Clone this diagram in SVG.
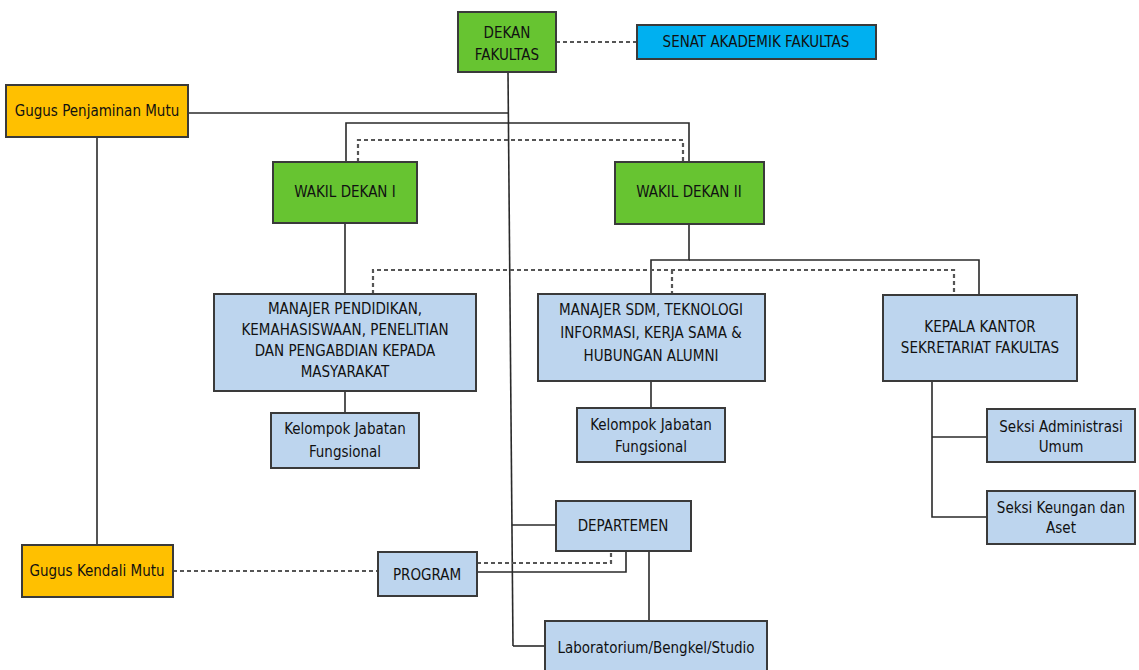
<svg xmlns="http://www.w3.org/2000/svg" width="1139" height="670" viewBox="0 0 1139 670">
<style>
.box{stroke:#3a3a3a;stroke-width:2}
.g{fill:#67c431}.s{fill:#00b0f0}.o{fill:#ffc000}.b{fill:#bdd5ee}
.ln{fill:none;stroke:#2a2a2a;stroke-width:1.6}
.dl{fill:none;stroke:#555;stroke-width:2.2;stroke-dasharray:4 3}
text{font-family:"Liberation Sans Narrow","DejaVu Sans Condensed","Liberation Sans",sans-serif;font-size:15px;fill:#111;text-anchor:middle}
</style>
<rect width="1139" height="670" fill="#fff"/>
<g id="connectors">
<line class="dl" x1="556" y1="42" x2="637" y2="42"/>
<polyline class="ln" points="188,113 508,113"/>
<line class="ln" x1="508" y1="72" x2="513" y2="646"/>
<polyline class="ln" points="513,646 545,646"/>
<polyline class="ln" points="512,525 556,525"/>
<polyline class="ln" points="346,162 346,123 689,123 689,162"/>
<polyline class="dl" points="358,162 358,140 683,140 683,162"/>
<line class="ln" x1="345" y1="223" x2="345" y2="294"/>
<polyline class="ln" points="689,224 689,260 651,260 651,294"/>
<polyline class="ln" points="689,260 979,260 979,295"/>
<polyline class="dl" points="373,294 373,270 954,270 954,295"/>
<line class="dl" x1="672" y1="270" x2="672" y2="294"/>
<line class="ln" x1="345" y1="391" x2="345" y2="413"/>
<line class="ln" x1="651" y1="381" x2="651" y2="408"/>
<polyline class="ln" points="932,381 932,517 987,517"/>
<line class="ln" x1="932" y1="437" x2="987" y2="437"/>
<line class="ln" x1="97" y1="137" x2="97" y2="545"/>
<line class="dl" x1="173" y1="571" x2="378" y2="571"/>
<polyline class="ln" points="477,572 626,572 626,551"/>
<polyline class="dl" points="477,563 611,563 611,551"/>
<line class="ln" x1="649" y1="551" x2="649" y2="621"/>
</g>
<g id="dekan"><rect class="box g" x="458" y="12" width="98" height="60"/><text x="507" y="38">DEKAN</text><text x="507" y="60">FAKULTAS</text></g>
<g id="senat"><rect class="box s" x="637" y="25" width="239" height="34"/><text x="756" y="47">SENAT AKADEMIK FAKULTAS</text></g>
<g id="gpm"><rect class="box o" x="6" y="85" width="182" height="52"/><text x="97" y="116">Gugus Penjaminan Mutu</text></g>
<g id="wd1"><rect class="box g" x="273" y="162" width="144" height="61"/><text x="345" y="197">WAKIL DEKAN I</text></g>
<g id="wd2"><rect class="box g" x="615" y="162" width="149" height="62"/><text x="689" y="197">WAKIL DEKAN II</text></g>
<g id="manajer1"><rect class="box b" x="214" y="294" width="262" height="97"/><text x="345" y="314">MANAJER PENDIDIKAN,</text><text x="345" y="335">KEMAHASISWAAN, PENELITIAN</text><text x="345" y="356">DAN PENGABDIAN KEPADA</text><text x="345" y="377">MASYARAKAT</text></g>
<g id="manajer2"><rect class="box b" x="538" y="294" width="227" height="87"/><text x="651" y="315">MANAJER SDM, TEKNOLOGI</text><text x="651" y="338">INFORMASI, KERJA SAMA &amp;</text><text x="651" y="361">HUBUNGAN ALUMNI</text></g>
<g id="kepala"><rect class="box b" x="883" y="295" width="194" height="86"/><text x="980" y="332">KEPALA KANTOR</text><text x="980" y="353">SEKRETARIAT FAKULTAS</text></g>
<g id="kjf1"><rect class="box b" x="271" y="413" width="148" height="55"/><text x="345" y="434">Kelompok Jabatan</text><text x="345" y="457">Fungsional</text></g>
<g id="kjf2"><rect class="box b" x="577" y="408" width="148" height="54"/><text x="651" y="430">Kelompok Jabatan</text><text x="651" y="452">Fungsional</text></g>
<g id="seksi-adm"><rect class="box b" x="987" y="409" width="148" height="53"/><text x="1061" y="432">Seksi Administrasi</text><text x="1061" y="452">Umum</text></g>
<g id="seksi-keu"><rect class="box b" x="987" y="491" width="148" height="53"/><text x="1061" y="513">Seksi Keungan dan</text><text x="1061" y="533">Aset</text></g>
<g id="departemen"><rect class="box b" x="556" y="501" width="135" height="50"/><text x="623" y="531">DEPARTEMEN</text></g>
<g id="program"><rect class="box b" x="378" y="552" width="99" height="44"/><text x="427" y="580">PROGRAM</text></g>
<g id="gkm"><rect class="box o" x="22" y="545" width="151" height="52"/><text x="97" y="576">Gugus Kendali Mutu</text></g>
<g id="lab"><rect class="box b" x="545" y="621" width="222" height="60"/><text x="656" y="653">Laboratorium/Bengkel/Studio</text></g>
</svg>
